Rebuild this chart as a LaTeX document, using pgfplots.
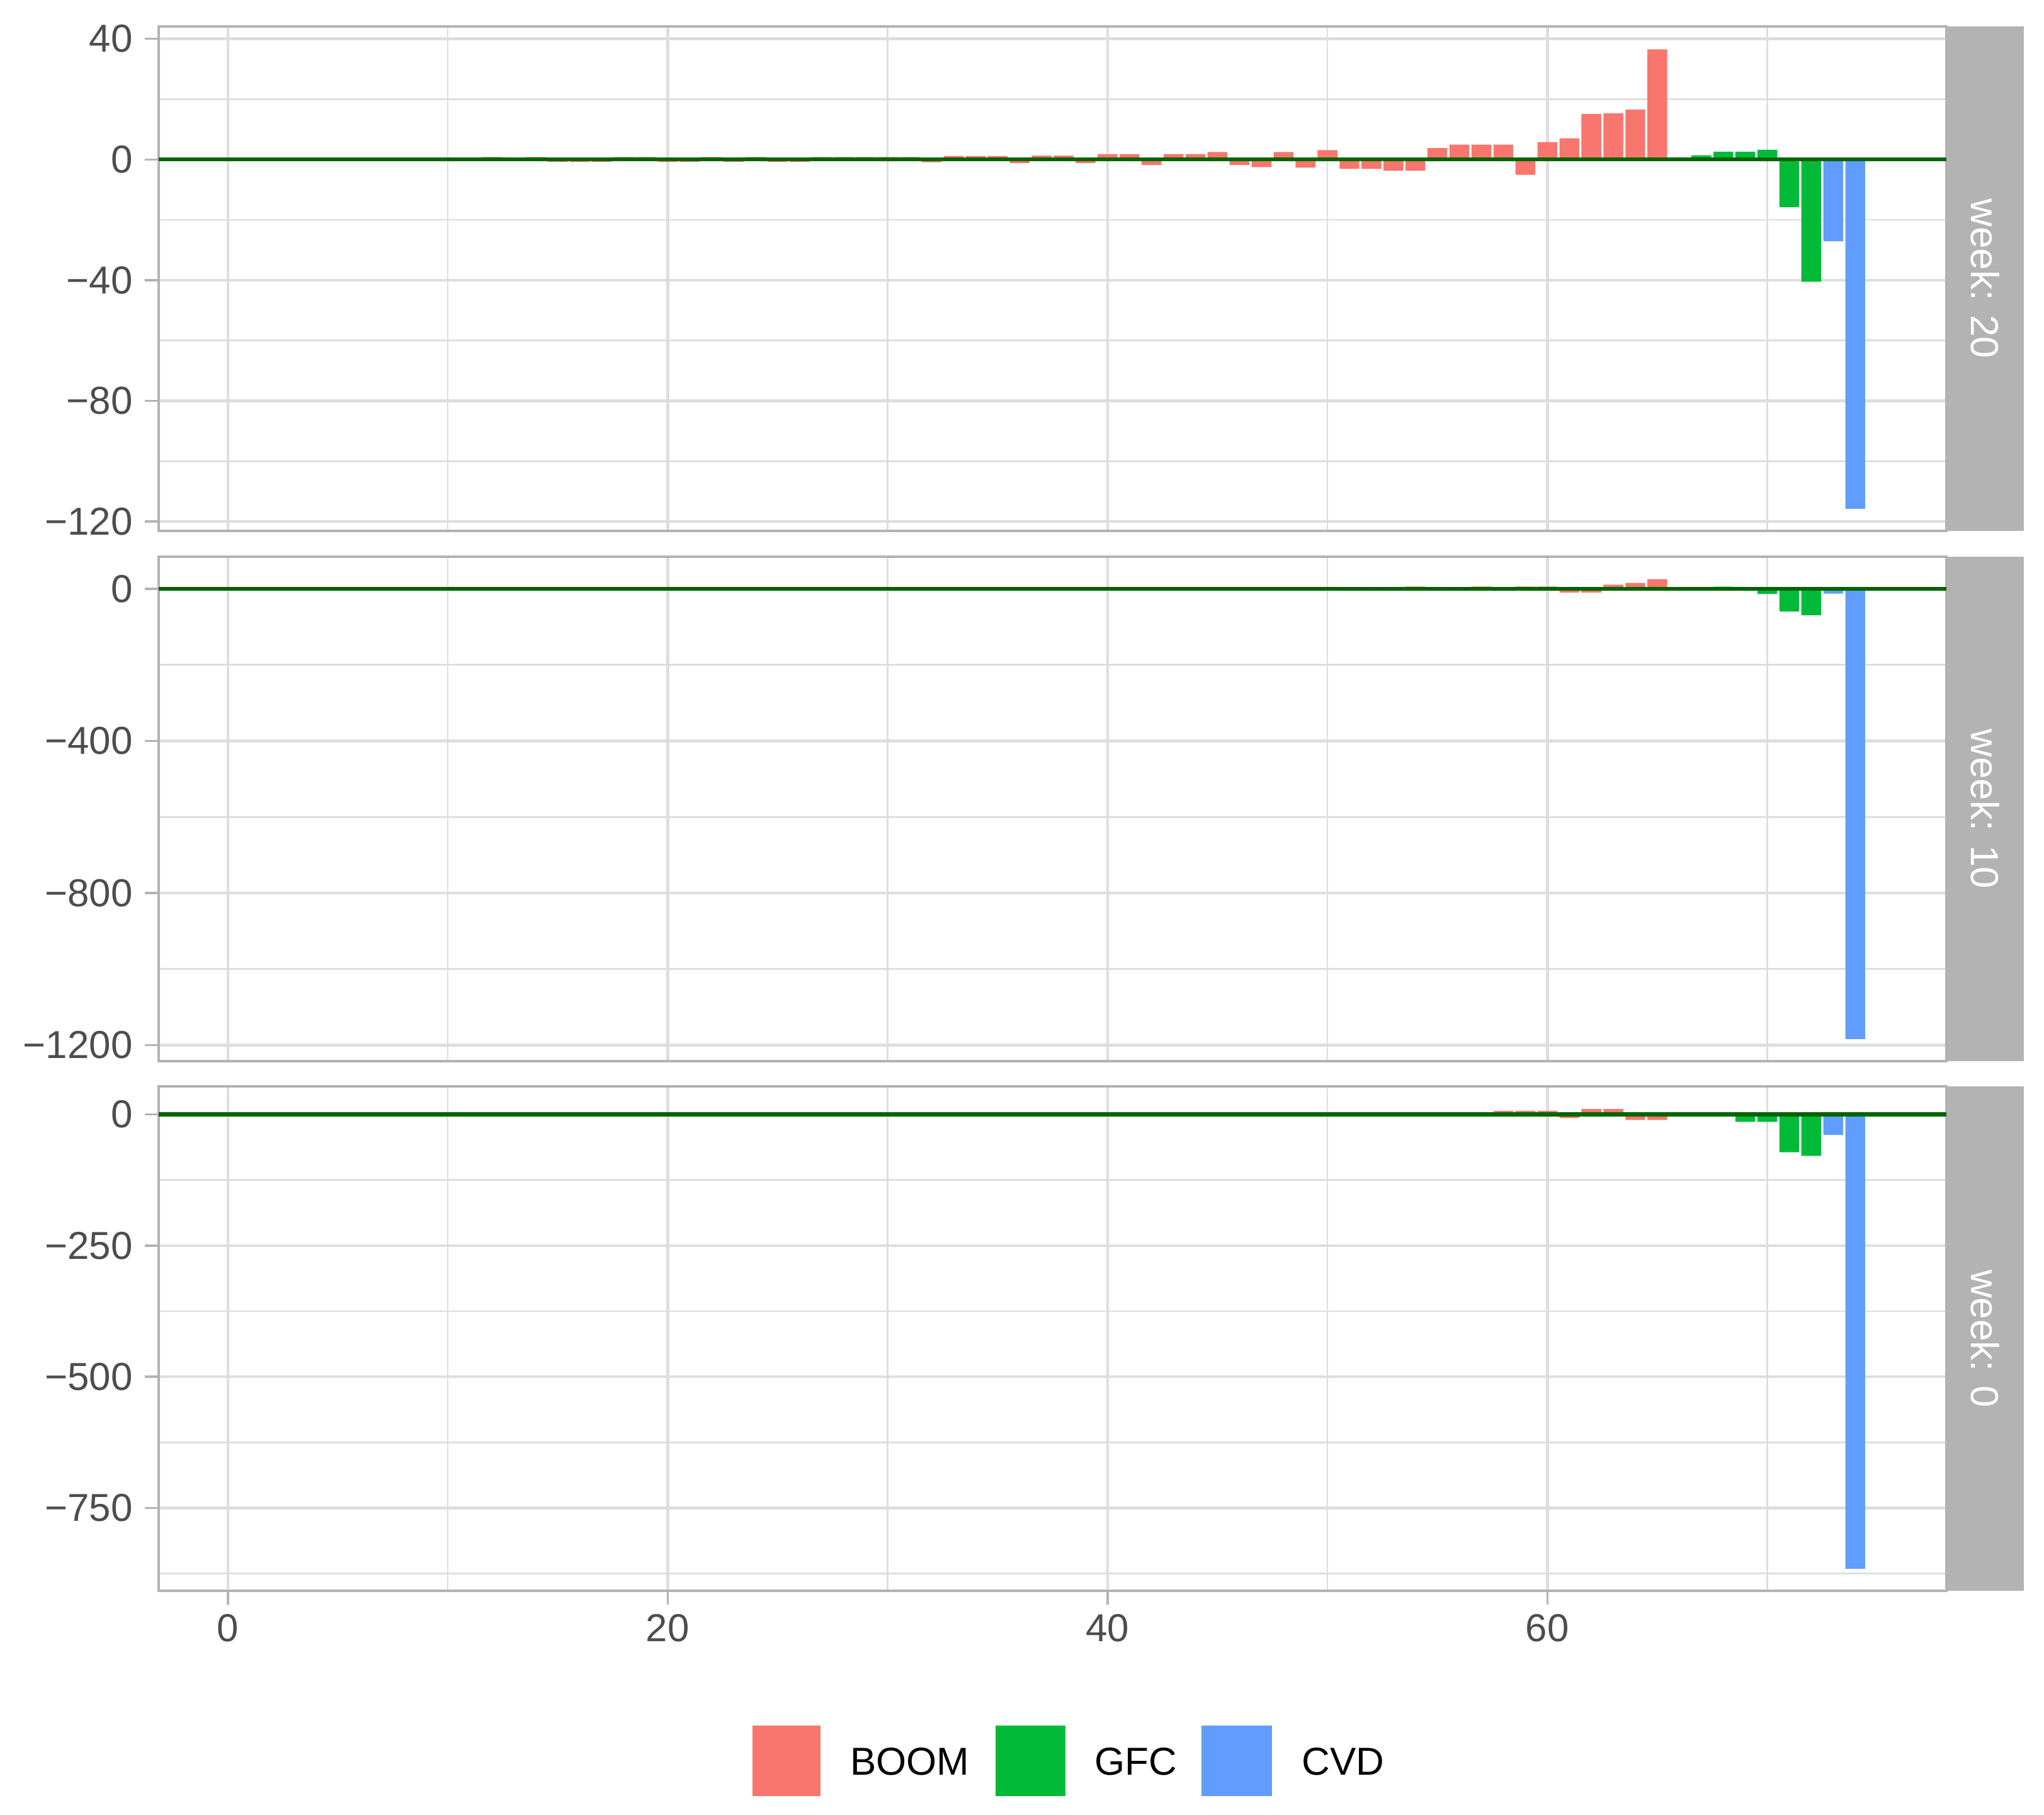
\documentclass[border=0pt]{standalone}
\usepackage{fontspec}
\setmainfont{Liberation Sans}
\usepackage{pgfplots}
\pgfplotsset{compat=1.18}

\definecolor{boom}{HTML}{F8766D}
\definecolor{gfc}{HTML}{00BA38}
\definecolor{cvd}{HTML}{619CFF}
\definecolor{zeroline}{HTML}{006400}
\definecolor{gray70}{HTML}{B3B3B3}
\definecolor{gray87}{HTML}{DEDEDE}
\definecolor{gray30}{HTML}{4D4D4D}

\newcommand{\lbl}{\fontsize{8.8}{10}\selectfont}

\pgfplotsset{
  facet/.style={
    scale only axis,
    width=14.195cm, height=4.005cm,
    xmin=-3.145, xmax=78.145,
    axis line style={gray70, line width=0.65pt},
    xtick={0,20,40,60}, minor xtick={10,30,50,70},
    grid=both,
    major grid style={gray87, line width=0.65pt},
    minor grid style={gray87, line width=0.4pt},
    tick align=outside,
    major tick length=0.11cm, minor tick length=0pt,
    tick style={gray70, line width=0.5pt},
    xtick pos=bottom, ytick pos=left,
    ticklabel style={text=gray30, font=\lbl},
    yticklabel style={anchor=east, inner sep=0pt, xshift=-0.09cm},
    xticklabel style={anchor=north, inner sep=0pt, yshift=-0.07cm},
  },
  nox/.style={xticklabels={,,,}, xtick style={draw=none}},
  bars/.style={ybar, bar width=0.9, bar shift=0pt, draw=none},
}

\begin{document}
\begin{tikzpicture}
\useasboundingbox (0,0) rectangle (16.23,-14.405);

% ---- week: 20 ----
\begin{axis}[facet, nox, at={(1.26cm,-4.215cm)}, anchor=south west,
  ymin=-123.1, ymax=44.1,
  ytick={-120,-80,-40,0,40}, yticklabels={−120,−80,−40,0,40},
  minor ytick={-100,-60,-20,20}]
\addplot[bars, fill=boom] coordinates {
 (12,0.8) (14,0.8) (15,-0.8) (16,-0.8) (17,-0.8) (18,0.8) (19,0.8)
 (20,-0.8) (21,-0.8) (22,0.8) (23,-0.8) (24,0.8) (25,-0.8) (26,-0.8)
 (27,0.8) (28,0.8) (29,0.8) (30,0.8) (31,0.8) (32,-0.9) (33,1.2)
 (34,1.2) (35,1.2) (36,-1.2) (37,1.3) (38,1.3) (39,-1.2) (40,1.8)
 (41,1.8) (42,-1.8) (43,1.8) (44,1.8) (45,2.5) (46,-1.8) (47,-2.5)
 (48,2.5) (49,-2.7) (50,3.1) (51,-3.1) (52,-3.1) (53,-3.7) (54,-3.7)
 (55,3.8) (56,4.95) (57,4.95) (58,4.95) (59,-5.1) (60,5.75) (61,7.0)
 (62,15.1) (63,15.3) (64,16.6) (65,36.5)};
\addplot[bars, fill=gfc] coordinates {
 (66,0.7) (67,1.4) (68,2.6) (69,2.6) (70,3.2) (71,-15.8) (72,-40.5)};
\addplot[bars, fill=cvd] coordinates {(73,-27.1) (74,-115.8)};
\draw[zeroline, line width=0.9pt] (axis cs:-3.145,0) -- (axis cs:78.145,0);
\end{axis}

% ---- week: 10 ----
\begin{axis}[facet, nox, at={(1.26cm,-8.425cm)}, anchor=south west,
  ymin=-1242, ymax=84,
  ytick={-1200,-800,-400,0}, yticklabels={−1200,−800,−400,0},
  minor ytick={-1000,-600,-200}]
\addplot[bars, fill=boom] coordinates {
 (34,-4.5) (37,-4.5) (38,4.5) (39,4.5) (40,-4.5) (41,-4.5) (42,-4.5)
 (43,4.5) (44,4.5) (45,4.5) (46,4.5) (47,4.5) (48,4.5) (49,-4.5)
 (50,4.5) (51,-5.5) (52,-5.5) (53,-5.5) (54,5.5) (55,-5.5) (56,-5.5)
 (57,5.5) (58,-5.5) (59,5.5) (60,5.5) (61,-10) (62,-10) (63,10.5)
 (64,15) (65,25)};
\addplot[bars, fill=gfc] coordinates {
 (66,-4.5) (67,-4.5) (68,5) (69,-4.5) (70,-14) (71,-59.8) (72,-69.7)};
\addplot[bars, fill=cvd] coordinates {(73,-13) (74,-1184)};
\draw[zeroline, line width=0.9pt] (axis cs:-3.145,0) -- (axis cs:78.145,0);
\end{axis}

% ---- week: 0 ----
\begin{axis}[facet, at={(1.26cm,-12.63cm)}, anchor=south west,
  ymin=-908, ymax=53.5,
  ytick={-750,-500,-250,0}, yticklabels={−750,−500,−250,0},
  minor ytick={-875,-625,-375,-125},
  xticklabels={0,20,40,60}]
\addplot[bars, fill=boom] coordinates {
 (22,3.5) (28,3.5) (31,3.5) (34,3.5) (36,3.5) (37,3.5) (38,3.5) (40,3.5)
 (41,3.5) (42,3.5) (43,-3.5) (44,3.5) (45,3.5) (46,-3.5) (47,3.5)
 (48,3.5) (49,-3.5) (50,4) (51,4) (52,4) (53,-4) (54,-4) (55,-4)
 (56,-4) (57,-4) (58,7) (59,7) (60,7) (61,-7) (62,10.5) (63,10.5)
 (64,-10.5) (65,-10.5)};
\addplot[bars, fill=gfc] coordinates {
 (66,3.5) (67,-3.5) (68,-3.5) (69,-14) (70,-14) (71,-72) (72,-79)};
\addplot[bars, fill=cvd] coordinates {(73,-39) (74,-866)};
\draw[zeroline, line width=0.9pt] (axis cs:-3.145,0) -- (axis cs:78.145,0);
\end{axis}

% facet strips
\fill[gray70] (15.455,-0.21) rectangle (16.07,-4.215);
\fill[gray70] (15.455,-4.42) rectangle (16.07,-8.425);
\fill[gray70] (15.455,-8.625) rectangle (16.07,-12.63);
\node[rotate=-90, text=white, font=\lbl, inner sep=0pt] at (15.7625,-2.2125) {week: 20};
\node[rotate=-90, text=white, font=\lbl, inner sep=0pt] at (15.7625,-6.4225) {week: 10};
\node[rotate=-90, text=white, font=\lbl, inner sep=0pt] at (15.7625,-10.6275) {week: 0};

% legend
\fill[boom] (5.975,-13.70) rectangle (6.515,-14.26);
\fill[gfc] (7.905,-13.70) rectangle (8.46,-14.26);
\fill[cvd] (9.54,-13.70) rectangle (10.10,-14.26);
\node[anchor=base west, inner sep=0pt, font=\lbl] at (6.745,-14.0925) {BOOM};
\node[anchor=base west, inner sep=0pt, font=\lbl] at (8.685,-14.0925) {GFC};
\node[anchor=base west, inner sep=0pt, font=\lbl] at (10.33,-14.0925) {CVD};
\end{tikzpicture}
\end{document}
